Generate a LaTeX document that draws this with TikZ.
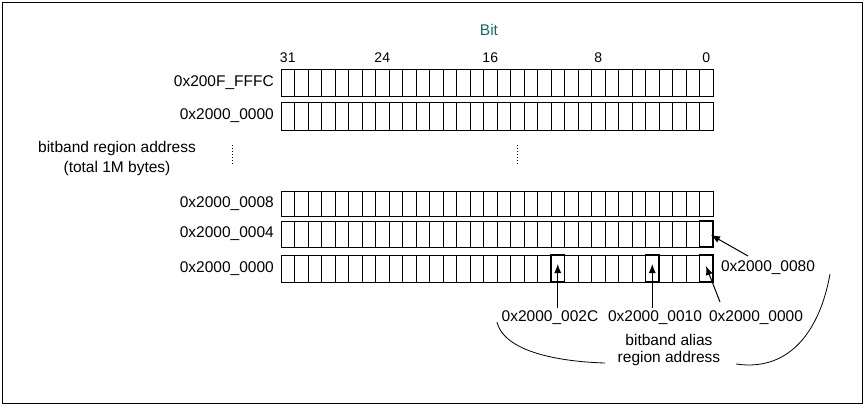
\documentclass[tikz,border=0pt]{standalone}
\usepackage{fontspec}
\usetikzlibrary{arrows.meta}
\setmainfont{Liberation Sans}
\definecolor{bitcol}{RGB}{20,110,110}
\begin{document}
\begin{tikzpicture}[x=1pt,y=-1pt,
  lbl/.style={font=\fontsize{15.5}{18}\selectfont, inner sep=0pt},
  num/.style={font=\fontsize{14}{16}\selectfont, inner sep=0pt},
  cell/.style={draw, line width=0.8pt},
  hi/.style={draw, line width=1.5pt},
  arr/.style={-{Latex[length=9pt,width=7pt]}, line width=1pt}]
\useasboundingbox (0,0) rectangle (867,407);
\draw[line width=0.6pt] (2,2) rectangle (862,403);
\node[lbl,text=bitcol] (bit) at (489,30) {Bit};
\foreach \b/\t in {31/31,24/24,16/16,8/8,0/0}{
  \node[num] (n\b) at ({281+(31-\b)*13.5+6.75},58) {\t};
}
\foreach \r/\top/\bot/\name in {a/69/96/0x200F\_FFFC, b/102/130/0x2000\_0000, c/191/216/0x2000\_0008, d/221/247/0x2000\_0004, e/255/282/0x2000\_0000}{
  \foreach \i in {0,...,31}{
    \draw[cell] ({281+\i*13.5},\top) rectangle ({281+(\i+1)*13.5},\bot);
  }
  \node[lbl,anchor=east] (L\r) at (274,{(\top+\bot)/2}) {\name};
}
% highlighted cells
\draw[hi] ({281+20*13.5},255) rectangle ({281+21*13.5},282);
\draw[hi] ({281+27*13.5},255) rectangle ({281+28*13.5},282);
\draw[hi] ({281+31*13.5},255) rectangle ({281+32*13.5},282);
\draw[hi] ({281+31*13.5},221) rectangle ({281+32*13.5},247);
\node[lbl] (reg1) at (117,148) {bitband region address};
\node[lbl] (reg2) at (117,168) {(total 1M bytes)};
\draw[dotted, line width=1pt] (232,145) -- (232,165);
\draw[dotted, line width=1pt] (517,145) -- (517,165);
\node[lbl] (t2c) at (550,318) {0x2000\_002C};
\node[lbl] (t10) at (655,318) {0x2000\_0010};
\node[lbl] (t00) at (756,318) {0x2000\_0000};
\node[lbl] (t80) at (768,268) {0x2000\_0080};
\node[lbl] (al1) at (669,340) {bitband alias};
\node[lbl] (al2) at (669,358) {region address};
\coordinate (h2c) at (557.75,264);
\coordinate (h10) at (652.25,264);
\coordinate (h00) at (706,266);
\coordinate (h80) at (711,235);
\draw[arr] (557.75,308) -- (h2c);
\draw[arr] (652.25,308) -- (h10);
\draw[arr] (720,302) -- (h00);
\draw[arr] (748,256) -- (h80);
\draw[line width=0.8pt] (497,322) .. controls (505,355) and (570,362) .. (605,363);
\draw[line width=0.8pt] (736,364) .. controls (790,372) and (820,330) .. (830,274);
\end{tikzpicture}
\end{document}
